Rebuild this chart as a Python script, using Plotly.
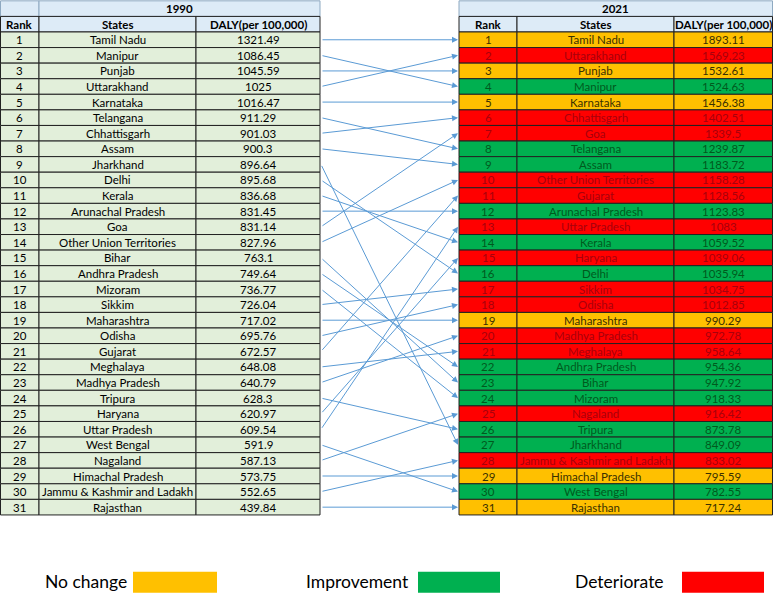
import plotly.graph_objects as go

# 1990 ranking (rank order 1..31)
states_1990 = [
    "Tamil Nadu", "Manipur", "Punjab", "Uttarakhand", "Karnataka", "Telangana",
    "Chhattisgarh", "Assam", "Jharkhand", "Delhi", "Kerala", "Arunachal Pradesh",
    "Goa", "Other Union Territories", "Bihar", "Andhra Pradesh", "Mizoram",
    "Sikkim", "Maharashtra", "Odisha", "Gujarat", "Meghalaya", "Madhya Pradesh",
    "Tripura", "Haryana", "Uttar Pradesh", "West Bengal", "Nagaland",
    "Himachal Pradesh", "Jammu & Kashmir and Ladakh", "Rajasthan",
]
daly_1990 = [
    "1321.49", "1086.45", "1045.59", "1025", "1016.47", "911.29", "901.03",
    "900.3", "896.64", "895.68", "836.68", "831.45", "831.14", "827.96", "763.1",
    "749.64", "736.77", "726.04", "717.02", "695.76", "672.57", "648.08",
    "640.79", "628.3", "620.97", "609.54", "591.9", "587.13", "573.75",
    "552.65", "439.84",
]

# 2021 ranking (rank order 1..31)
states_2021 = [
    "Tamil Nadu", "Uttarakhand", "Punjab", "Manipur", "Karnataka", "Chhattisgarh",
    "Goa", "Telangana", "Assam", "Other Union Territories", "Gujarat",
    "Arunachal Pradesh", "Uttar Pradesh", "Kerala", "Haryana", "Delhi", "Sikkim",
    "Odisha", "Maharashtra", "Madhya Pradesh", "Meghalaya", "Andhra Pradesh",
    "Bihar", "Mizoram", "Nagaland", "Tripura", "Jharkhand",
    "Jammu & Kashmir and Ladakh", "Himachal Pradesh", "West Bengal", "Rajasthan",
]
daly_2021 = [
    "1893.11", "1569.23", "1532.61", "1524.63", "1456.38", "1402.51", "1339.5",
    "1239.87", "1183.72", "1158.28", "1128.56", "1123.83", "1083", "1059.52",
    "1039.06", "1035.94", "1034.75", "1012.85", "990.29", "972.78", "958.64",
    "954.36", "947.92", "918.33", "916.42", "873.78", "849.09", "833.02",
    "795.59", "782.55", "717.24",
]
# colour class of each 2021 row, as marked in the source (N/I/D)
status_2021 = [
    "N", "D", "N", "I", "N", "D", "D", "I", "I", "D", "D", "I", "D", "I", "D",
    "I", "D", "D", "N", "D", "D", "I", "I", "I", "D", "I", "I", "D", "N", "I",
    "N",
]

header_cols = ["Rank", "States", "DALY(per 100,000)"]
legend_labels = ["No change", "Improvement", "Deteriorate"]
legend_keys = ["N", "I", "D"]

# styles
FONT = "Lato"
HEAD_FILL = "#DDEBF7"
LEFT_FILL = "#E2EFDA"
LINE = "#222222"
ARROW = "#5B9BD5"
STATUS_FILL = {"N": "#FFC000", "I": "#00B050", "D": "#FF0000"}
STATUS_TEXT = {"N": "#3A3000", "I": "#005A1E", "D": "#A8000C"}

LEFT_X = [0.5, 39, 196, 320]
RIGHT_X = [459, 517, 674, 772.5]

fig = go.Figure()
shapes = []
annotations = []


def cell(x0, x1, r, fill, text, color="black", bold=False, size=11.5, line=LINE):
    shapes.append(dict(type="rect", xref="x", yref="y", x0=x0, x1=x1,
                       y0=r - 0.5, y1=r + 0.5, fillcolor=fill,
                       line=dict(color=line, width=1), layer="below"))
    if text:
        annotations.append(dict(x=(x0 + x1) / 2, y=r, xref="x", yref="y",
                                text="<b>%s</b>" % text if bold else text,
                                showarrow=False,
                                font=dict(family=FONT, size=size, color=color)))


# headers
cell(LEFT_X[0], LEFT_X[1], -1, HEAD_FILL, "", line="#8EA9C1")
cell(LEFT_X[1], LEFT_X[3], -1, HEAD_FILL, "1990", bold=True, line="#8EA9C1")
cell(RIGHT_X[0], RIGHT_X[3], -1, HEAD_FILL, "2021", bold=True, line="#8EA9C1")
for k, h in enumerate(header_cols):
    cell(LEFT_X[k], LEFT_X[k + 1], 0, HEAD_FILL, h, bold=True)
    cell(RIGHT_X[k], RIGHT_X[k + 1], 0, HEAD_FILL, h, bold=True)

# left table
for i, (s, v) in enumerate(zip(states_1990, daly_1990)):
    r = i + 1
    for k, t in enumerate([str(r), s, v]):
        cell(LEFT_X[k], LEFT_X[k + 1], r, LEFT_FILL, t)

# right table
for j, (s, v, st) in enumerate(zip(states_2021, daly_2021, status_2021)):
    r = j + 1
    for k, t in enumerate([str(r), s, v]):
        cell(RIGHT_X[k], RIGHT_X[k + 1], r, STATUS_FILL[st], t,
             color=STATUS_TEXT[st])

# arrows from 1990 rank to 2021 rank
for i, s in enumerate(states_1990):
    j = states_2021.index(s)
    annotations.append(dict(x=RIGHT_X[0] - 1, y=j + 1, xref="x", yref="y",
                            ax=LEFT_X[3] + 1, ay=i + 1, axref="x", ayref="y",
                            text="", showarrow=True, arrowhead=2, arrowsize=1.2,
                            arrowwidth=1, arrowcolor=ARROW, standoff=0))

# legend
legend_text_x = [129, 411, 666]
legend_box_x = [(133, 217), (418, 500), (682, 764)]
for lab, key, tx, (b0, b1) in zip(legend_labels, legend_keys, legend_text_x, legend_box_x):
    annotations.append(dict(x=tx, y=35.8, xref="x", yref="y", text=lab,
                            xanchor="right", showarrow=False,
                            font=dict(family=FONT, size=17.5, color="black")))
    shapes.append(dict(type="rect", xref="x", yref="y", x0=b0, x1=b1,
                       y0=35.15, y1=36.5, fillcolor=STATUS_FILL[key],
                       line=dict(width=0)))

fig.add_trace(go.Scatter(x=[0, 773], y=[0, 0], mode="markers",
                         marker=dict(opacity=0), hoverinfo="skip",
                         showlegend=False))

fig.update_layout(
    width=773,
    height=593,
    margin=dict(l=0, r=0, t=0, b=0),
    plot_bgcolor="white",
    paper_bgcolor="white",
    shapes=shapes,
    annotations=annotations,
    xaxis=dict(range=[0, 773], visible=False, fixedrange=True),
    yaxis=dict(range=[36.51, -1.553], visible=False, fixedrange=True),
    showlegend=False,
)

fig.write_html("out.html", config={"displayModeBar": False},
               post_script="document.body.style.margin='0';")
